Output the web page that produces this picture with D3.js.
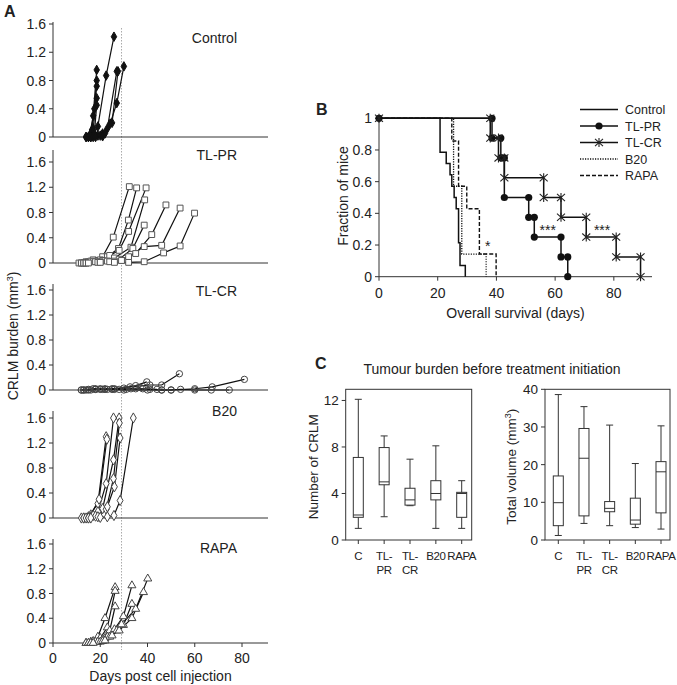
<!DOCTYPE html>
<html><head><meta charset="utf-8">
<script src="https://cdn.jsdelivr.net/npm/d3@7/dist/d3.min.js"></script>
<style>html,body{margin:0;padding:0;background:#fff}svg text{font-family:"Liberation Sans",Arial,Helvetica,sans-serif;fill:#222}</style>
</head><body><svg id="chart" width="677" height="685"></svg>
<script>
// ================= DATA =================
// Panel A: tumour burden curves per mouse, [day, CRLM burden mm3]
const aGroups = ["Control", "TL-PR", "TL-CR", "B20", "RAPA"];
const aTicksY = [0, 0.4, 0.8, 1.2, 1.6];
const aTicksX = [0, 20, 40, 60, 80];
const treatmentDay = 29;

const controlCurves = [
  [[14,0],[15.5,0.02],[17,0.3],[18.5,0.95]],
  [[14,0],[16,0.05],[17.5,0.4],[18.5,0.8]],
  [[15,0],[16.5,0.1],[18.5,0.72]],
  [[15,0],[17,0.12],[18.5,0.55]],
  [[16,0],[17.5,0.05],[18.5,0.45]],
  [[15,0],[17,0.02],[19,0.15],[22.5,0.87],[25.8,1.42]],
  [[16,0],[19,0.02],[21,0.05],[23,0.12],[27,0.93]],
  [[17,0],[20,0.02],[22,0.05],[25,0.2],[27.5,0.93]],
  [[18,0],[21,0.01],[24.2,0.19],[27,0.48],[30,1.0]]
];
const tlprCurves = [
  [[11,0],[14,0.02],[17,0.05],[21,0.1],[25.5,0.41],[32.3,1.21]],
  [[12,0],[15,0.02],[19,0.04],[23,0.1],[27.7,0.23],[31.9,0.68],[35.4,1.19]],
  [[12,0],[16,0.03],[20,0.05],[24,0.12],[28,0.2],[32,0.5],[39.4,1.19]],
  [[13,0],[17,0.02],[21,0.04],[26,0.08],[33,0.25],[38.8,1.0]],
  [[13,0],[18,0.02],[23,0.03],[28,0.06],[33.8,0.23],[38.6,0.6]],
  [[14,0],[19,0.01],[24,0.02],[29,0.04],[35,0.15],[41.8,0.45],[47.8,0.92]],
  [[14,0],[20,0.02],[26,0.03],[32,0.1],[38.6,0.26],[46,0.28],[53.8,0.87]],
  [[15,0],[20,0.01],[26,0.01],[32,0.01],[38.6,0.02],[46.8,0.16],[53.8,0.27],[59.9,0.79]]
];
const tlcrCurves = [
  [[12,0],[15,0.01],[18,0.02],[22,0.01],[26,0.02],[30,0.03],[35,0.07],[39.7,0.13]],
  [[13,0],[17,0.02],[21,0.01],[25,0.02],[32.6,0.05],[41,0.08],[46,0.08],[53.5,0.26]],
  [[14,0],[18,0.01],[22,0.02],[28,0.01],[35,0.02],[41,0.01],[46,0],[50,0],[60,0.02],[67.4,0.05],[81,0.17]],
  [[13,0],[18,0.01],[23,0.01],[30,0],[40,0],[46,0],[50,0],[54,0.01],[60,0],[67,0],[74.6,0]],
  [[15,0],[20,0.02],[25,0.01],[31,0.01],[38,0.02],[44,0.01]],
  [[12,0],[16,0],[20,0.01],[26,0.01],[33,0.02],[37,0.04]]
];
const b20Curves = [
  [[12,0],[15,0.02],[19,0.23],[22.5,1.3]],
  [[13,0],[16,0.05],[19.5,0.3],[22.8,1.26]],
  [[13,0],[16,0.02],[19,0.1],[22.5,0.55],[25.6,1.6]],
  [[14,0],[17,0.04],[21,0.15],[25.6,0.93],[28,1.6]],
  [[15,0],[18,0.03],[22.5,0.14],[25.6,0.63],[28.1,1.52]],
  [[15,0],[19,0.02],[23,0.18],[26,0.5],[28.4,1.28]],
  [[16,0],[20,0.01],[23,0.02],[25.8,0.04],[28.4,0.28],[34,1.6]]
];
const rapaCurves = [
  [[14,0],[16,0.02],[19,0.1],[22,0.4],[26.3,0.9]],
  [[14,0],[17,0.03],[20,0.08],[23,0.25],[26.3,0.84]],
  [[15,0],[18,0.02],[21,0.06],[24,0.2],[26.3,0.59]],
  [[15,0],[19,0.02],[22,0.08],[26,0.22],[29.8,0.43],[33.4,0.93]],
  [[16,0],[20,0.02],[23,0.1],[27,0.2],[29.8,0.29],[33.4,0.63]],
  [[16,0],[21,0.03],[24,0.1],[28,0.2],[33.4,0.4],[38.3,0.82]],
  [[17,0],[22,0.04],[25,0.12],[29,0.3],[35,0.55],[40.1,1.04]]
];
const aCurves = [controlCurves, tlprCurves, tlcrCurves, b20Curves, rapaCurves];

// Panel B: Kaplan–Meier, [day, fraction] step points
const kmSeries = ["Control", "TL-PR", "TL-CR", "B20", "RAPA"];
const kmControl = [[0,1],[20.8,0.786],[22.9,0.714],[24.2,0.643],[24.8,0.571],[25.6,0.5],[26.3,0.429],[27.1,0.214],[27.6,0.071],[29.4,0]];
const kmTLPR = [[0,1],[38.5,0.875],[41.5,0.75],[42.7,0.5],[51,0.375],[52.9,0.25],[62,0.125],[64.3,0]];
const kmTLCR = [[0,1],[37.9,0.875],[40.7,0.75],[42.7,0.625],[56.1,0.5],[62,0.375],[70.6,0.25],[80.8,0.125],[89.1,0]];
const kmB20 = [[0,1],[25.4,0.571],[28.2,0.143],[36.5,0]];
const kmRAPA = [[0,1],[24.8,0.857],[27.1,0.571],[29.9,0.429],[34.2,0.143],[39.9,0]];
const kmTicksX = [0, 20, 40, 60, 80];
const kmTicksY = [0, 0.2, 0.4, 0.6, 0.8, 1];
const kmStars = [["*", 37, 0.21], ["***", 57.5, 0.316], ["***", 76, 0.316]];

// Panel C: box plots [min, q1, median, q3, max]
const boxCats = ["C", "TL-PR", "TL-CR", "B20", "RAPA"];
const boxCatLines = [["C"], ["TL-", "PR"], ["TL-", "CR"], ["B20"], ["RAPA"]];
const numberStats = [
  [1.0, 1.95, 2.15, 7.1, 12.1],
  [2.0, 4.75, 5.0, 7.95, 8.95],
  [2.95, 3.0, 3.45, 4.45, 6.95],
  [1.0, 3.45, 4.0, 5.1, 8.1],
  [1.0, 1.95, 4.0, 4.1, 5.1]
];
const numberTicks = [0, 4, 8, 12];
const volumeStats = [
  [1.2, 3.8, 9.9, 17.0, 38.6],
  [4.4, 6.4, 21.7, 29.6, 35.4],
  [3.8, 7.5, 8.4, 10.2, 30.5],
  [3.3, 4.2, 5.3, 11.1, 20.3],
  [2.9, 7.2, 18.1, 20.8, 30.3]
];
const volumeTicks = [0, 10, 20, 30, 40];

// ================= DRAWING =================
const svg = d3.select("#chart");
const AX = "#333";
const fmt1 = d => d === 0 ? "0" : (Number.isInteger(d) ? String(d) : d.toFixed(1));

function txt(g, s, x, y, size, anchor, extra) {
  const t = g.append("text").attr("x", x).attr("y", y).attr("font-size", size)
    .attr("text-anchor", anchor || "start").text(s);
  if (extra) extra(t);
  return t;
}

// ---------- Panel A ----------
const aLayout = [
  { top: 22, y16: 24, bottom: 137, ly: 43 },
  { top: 150, y16: 162, bottom: 263, ly: 160 },
  { top: 284, y16: 290, bottom: 390, ly: 296 },
  { top: 411, y16: 418, bottom: 518, ly: 416 },
  { top: 539, y16: 544, bottom: 643, ly: 553 }
];
const xA = d3.scaleLinear().domain([0, 91]).range([53, 268]);
const gA = svg.append("g");

gA.append("line").attr("x1", xA(treatmentDay)).attr("x2", xA(treatmentDay))
  .attr("y1", 28).attr("y2", 650).attr("stroke", "#aaa").attr("stroke-width", 1)
  .attr("stroke-dasharray", "1.5,1.5");

const symA = [
  { type: d3.symbolDiamond, size: 26, fill: "#111", stroke: "#111" },
  { type: d3.symbolSquare, size: 34, fill: "#fff", stroke: "#555" },
  { type: d3.symbolCircle, size: 32, fill: "none", stroke: "#444" },
  { type: d3.symbolDiamond, size: 30, fill: "#fff", stroke: "#444" },
  { type: d3.symbolTriangle, size: 28, fill: "#fff", stroke: "#444" }
];

aLayout.forEach((L, i) => {
  const y = d3.scaleLinear().domain([0, 1.6]).range([L.bottom, L.y16]);
  const g = gA.append("g");
  g.append("line").attr("x1", xA(0)).attr("x2", xA(0)).attr("y1", L.top).attr("y2", L.bottom).attr("stroke", AX);
  g.append("line").attr("x1", xA(0)).attr("x2", xA.range()[1]).attr("y1", L.bottom).attr("y2", L.bottom).attr("stroke", AX);
  aTicksY.forEach(t => {
    g.append("line").attr("x1", xA(0) - 4).attr("x2", xA(0)).attr("y1", y(t)).attr("y2", y(t)).attr("stroke", AX);
    txt(g, fmt1(t), xA(0) - 7, y(t) + 5, 14, "end");
  });
  txt(g, aGroups[i], 237, L.ly, 14, "end");
  const line = d3.line().x(d => xA(d[0])).y(d => y(d[1]));
  const curves = aCurves[i];
  curves.forEach(c => {
    g.append("path").attr("d", line(c)).attr("fill", "none").attr("stroke", "#111").attr("stroke-width", 1.2);
  });
  const S = symA[i];
  const sym = d3.symbol().type(S.type).size(S.size);
  curves.forEach(c => {
    c.forEach(p => {
      g.append("path").attr("d", sym()).attr("transform", `translate(${xA(p[0])},${y(p[1])})`)
        .attr("fill", S.fill).attr("stroke", S.stroke).attr("stroke-width", 1);
    });
  });
  if (i === aLayout.length - 1) {
    aTicksX.forEach(t => {
      g.append("line").attr("x1", xA(t)).attr("x2", xA(t)).attr("y1", L.bottom).attr("y2", L.bottom + 4).attr("stroke", AX);
      txt(g, String(t), xA(t), L.bottom + 20, 14, "middle");
    });
  }
});
txt(gA, "Days post cell injection", (xA(0) + xA.range()[1]) / 2, 681, 14, "middle");
const yl = gA.append("text").attr("transform", "translate(18,336) rotate(-90)").attr("text-anchor", "middle").attr("font-size", 14);
yl.append("tspan").text("CRLM burden (mm");
yl.append("tspan").attr("dy", -5).attr("font-size", 9).text("3");
yl.append("tspan").attr("dy", 5).text(")");
txt(gA, "A", 4, 17, 16, "start", t => t.attr("font-weight", "bold"));

// ---------- Panel B ----------
const gB = svg.append("g");
const xB = d3.scaleLinear().domain([0, 93]).range([379, 652]);
const yB = d3.scaleLinear().domain([0, 1]).range([276.7, 118.3]);
gB.append("line").attr("x1", xB(0)).attr("x2", xB(0)).attr("y1", yB(1) - 2).attr("y2", yB(0)).attr("stroke", AX);
gB.append("line").attr("x1", xB(0)).attr("x2", xB.range()[1]).attr("y1", yB(0)).attr("y2", yB(0)).attr("stroke", AX);
kmTicksY.forEach(t => {
  gB.append("line").attr("x1", xB(0) - 4).attr("x2", xB(0)).attr("y1", yB(t)).attr("y2", yB(t)).attr("stroke", AX);
  txt(gB, fmt1(t), xB(0) - 7, yB(t) + 5, 14, "end");
});
kmTicksX.forEach(t => {
  gB.append("line").attr("x1", xB(t)).attr("x2", xB(t)).attr("y1", yB(0)).attr("y2", yB(0) + 4).attr("stroke", AX);
  txt(gB, String(t), xB(t), yB(0) + 21, 14, "middle");
});
txt(gB, "Overall survival (days)", (xB(0) + xB.range()[1]) / 2, 318, 14, "middle");
gB.append("text").attr("transform", "translate(348,196) rotate(-90)").attr("text-anchor", "middle").attr("font-size", 14).text("Fraction of mice");
txt(gB, "B", 316, 115, 16, "start", t => t.attr("font-weight", "bold"));

const kmData = [kmControl, kmTLPR, kmTLCR, kmB20, kmRAPA];
const kmStyle = [
  { dash: null, width: 1.5, marker: null },
  { dash: null, width: 1.5, marker: "dot" },
  { dash: null, width: 1.5, marker: "star" },
  { dash: "1.2,1.3", width: 1.3, marker: null },
  { dash: "4,2", width: 1.4, marker: null }
];
const stepLine = d3.line().x(d => xB(d[0])).y(d => yB(d[1])).curve(d3.curveStepAfter);
const starPath = "M-4,-3.6L4,3.6M-4,3.6L4,-3.6M0,-4.5L0,4.5";
function kmMarker(g, type, x, y) {
  if (type === "dot") g.append("circle").attr("cx", x).attr("cy", y).attr("r", 3.6).attr("fill", "#111");
  else if (type === "star") g.append("path").attr("d", starPath).attr("transform", `translate(${x},${y})`)
    .attr("stroke", "#222").attr("stroke-width", 1.1).attr("fill", "none");
}
[4, 3, 2, 1, 0].forEach(i => {
  const S = kmStyle[i];
  const p = gB.append("path").attr("d", stepLine(kmData[i])).attr("fill", "none")
    .attr("stroke", "#111").attr("stroke-width", S.width);
  if (S.dash) p.attr("stroke-dasharray", S.dash);
});
[1, 2].forEach(i => {
  const d = kmData[i], S = kmStyle[i];
  for (let k = 0; k < d.length - 1; k++) {
    kmMarker(gB, S.marker, xB(d[k][0]), yB(d[k][1]));
    kmMarker(gB, S.marker, xB(d[k + 1][0]), yB(d[k][1]));
  }
  const last = d[d.length - 1];
  kmMarker(gB, S.marker, xB(last[0]), yB(last[1]));
});
kmStars.forEach(s => txt(gB, s[0], xB(s[1]), yB(s[2]) + 8, 14, "middle"));

const legX1 = 580, legX2 = 618, legY0 = 109.5, legDy = 16.5;
kmSeries.forEach((name, i) => {
  const yy = legY0 + i * legDy, S = kmStyle[i];
  const l = gB.append("line").attr("x1", legX1).attr("x2", legX2).attr("y1", yy).attr("y2", yy)
    .attr("stroke", "#111").attr("stroke-width", S.width);
  if (S.dash) l.attr("stroke-dasharray", S.dash);
  if (S.marker) kmMarker(gB, S.marker, (legX1 + legX2) / 2, yy);
  txt(gB, name, 625, yy + 4.5, 12.5, "start");
});

// ---------- Panel C ----------
const gC = svg.append("g");
txt(gC, "C", 315, 369, 16, "start", t => t.attr("font-weight", "bold"));
txt(gC, "Tumour burden before treatment initiation", 492, 374, 14, "middle");

function boxPanel(frame, stats, ticks, yMax, catRange, labelX, labelParts) {
  const y = d3.scaleLinear().domain([0, yMax]).range([frame.bottom, frame.top]);
  const x = d3.scalePoint().domain(boxCats).range(catRange);
  const g = gC.append("g");
  g.append("rect").attr("x", frame.left).attr("y", frame.top).attr("width", frame.right - frame.left)
    .attr("height", frame.bottom - frame.top).attr("fill", "none").attr("stroke", AX);
  ticks.forEach(t => {
    g.append("line").attr("x1", frame.left - 4).attr("x2", frame.left).attr("y1", y(t)).attr("y2", y(t)).attr("stroke", AX);
    txt(g, String(t), frame.left - 7, y(t) + 5, 13.5, "end");
  });
  boxCats.forEach((c, i) => {
    const cx = x(c);
    g.append("line").attr("x1", cx).attr("x2", cx).attr("y1", frame.bottom).attr("y2", frame.bottom + 4).attr("stroke", AX);
    boxCatLines[i].forEach((ln, j) => txt(g, ln, cx, frame.bottom + 20 + j * 14, 11.5, "middle",
      t => t.attr("letter-spacing", "-0.4")));
    const s = stats[i], bw = 10, cw = 7;
    g.append("line").attr("x1", cx).attr("x2", cx).attr("y1", y(s[0])).attr("y2", y(s[4])).attr("stroke", AX);
    [s[0], s[4]].forEach(v => g.append("line").attr("x1", cx - cw / 2).attr("x2", cx + cw / 2)
      .attr("y1", y(v)).attr("y2", y(v)).attr("stroke", AX));
    g.append("rect").attr("x", cx - bw / 2).attr("y", y(s[3])).attr("width", bw)
      .attr("height", y(s[1]) - y(s[3])).attr("fill", "#fff").attr("stroke", AX);
    g.append("line").attr("x1", cx - bw / 2).attr("x2", cx + bw / 2).attr("y1", y(s[2])).attr("y2", y(s[2])).attr("stroke", AX);
  });
  const t = g.append("text").attr("transform", `translate(${labelX},${(frame.top + frame.bottom) / 2 + 2}) rotate(-90)`)
    .attr("text-anchor", "middle").attr("font-size", 13.5);
  labelParts(t);
}
boxPanel({ left: 345.7, right: 471.7, top: 389.3, bottom: 540 }, numberStats, numberTicks, 12.96, [358.3, 461.7], 318,
  t => t.text("Number of CRLM"));
boxPanel({ left: 545, right: 670, top: 389.3, bottom: 540 }, volumeStats, volumeTicks, 40, [558.3, 661], 516,
  t => { t.append("tspan").text("Total volume (mm"); t.append("tspan").attr("dy", -5).attr("font-size", 9).text("3");
         t.append("tspan").attr("dy", 5).text(")"); });
</script></body></html>
